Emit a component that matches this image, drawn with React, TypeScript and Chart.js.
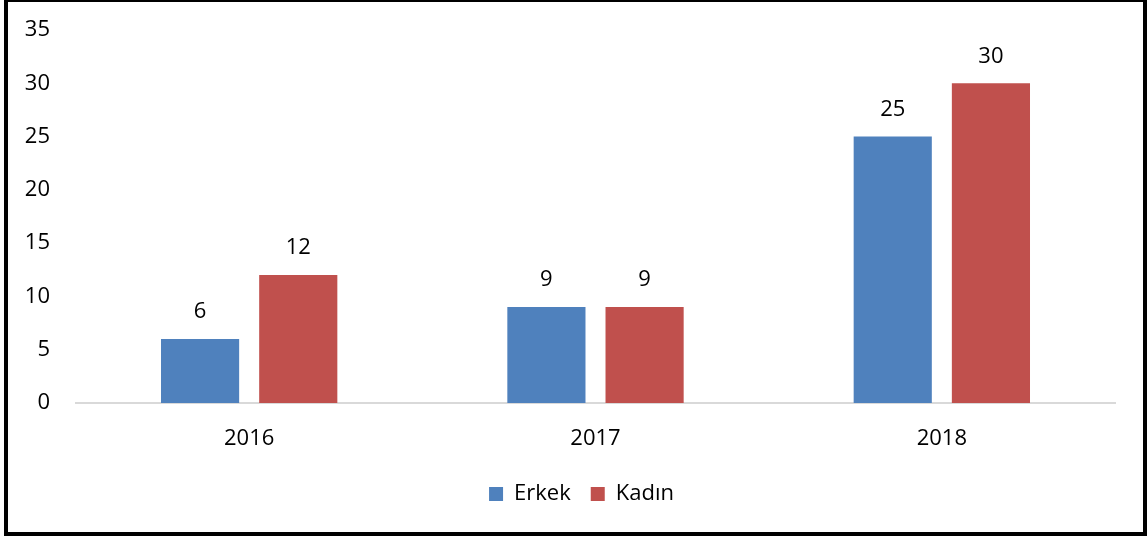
import React, { useEffect, useRef } from "react";
import { Chart, registerables } from "chart.js";
Chart.register(...registerables);

const categories = ["2016", "2017", "2018"];
const erkek = [6, 9, 25];
const kadin = [12, 9, 30];
const seriesNames = ["Erkek", "Kadın"];
const yTicks = [0, 5, 10, 15, 20, 25, 30, 35];

const FONT = "'Open Sans', 'Noto Sans', sans-serif";
const FS = 22;

const labelPlugin = {
  id: "barLabels",
  afterLayout(chart: any) {
    if (chart.legend) {
      chart.legend.left += 24;
      chart.legend.right += 24;
    }
  },
  afterDatasetsDraw(chart: any) {
    const ctx = chart.ctx;
    ctx.save();
    ctx.font = `${FS}px ${FONT}`;
    ctx.fillStyle = "#000";
    ctx.textAlign = "center";
    ctx.textBaseline = "middle";
    chart.data.datasets.forEach((ds: any, i: number) => {
      const meta = chart.getDatasetMeta(i);
      meta.data.forEach((bar: any, j: number) => {
        ctx.fillText(String(ds.data[j]), bar.x, bar.y - 27);
      });
    });
    ctx.restore();
  },
};

export default function App() {
  const ref = useRef<HTMLCanvasElement>(null);
  useEffect(() => {
    document.body.style.margin = "0";
    const chart = new Chart(ref.current!, {
      type: "bar",
      data: {
        labels: categories,
        datasets: [
          { label: seriesNames[0], data: erkek, backgroundColor: "#4F81BD", categoryPercentage: 0.567, barPercentage: 0.796 },
          { label: seriesNames[1], data: kadin, backgroundColor: "#C0504D", categoryPercentage: 0.567, barPercentage: 0.796 },
        ],
      },
      options: {
        animation: false,
        responsive: false,
        maintainAspectRatio: false,
        layout: { padding: { left: 0, right: 33, top: 30, bottom: 22 } },
        plugins: {
          tooltip: { enabled: false },
          legend: {
            position: "bottom",
            labels: {
              font: { family: FONT, size: FS },
              color: "#000",
              boxWidth: 14,
              boxHeight: 14,
              padding: 20,
            },
          },
        },
        scales: {
          x: {
            grid: { display: false, drawTicks: false },
            border: { display: true, color: "#d9d9d9", width: 2 },
            ticks: { font: { family: FONT, size: FS }, color: "#000", padding: 23 },
            afterFit(scale: any) { scale.height = 60; },
          },
          y: {
            min: 0,
            max: 35,
            afterBuildTicks(scale: any) { scale.ticks = yTicks.map((v) => ({ value: v })); },
            grid: { display: false, drawTicks: false },
            border: { display: false },
            ticks: { font: { family: FONT, size: FS }, color: "#000", padding: 26 },
            afterFit(scale: any) {
              scale.width = 76;
              scale.paddingTop = 0;
              scale.paddingBottom = 0;
            },
          },
        },
      },
      plugins: [labelPlugin],
    });
    return () => chart.destroy();
  }, []);
  return (
    <div style={{ position: "absolute", left: 0, top: 0, width: 1148, height: 537, background: "#fff" }}>
      <canvas ref={ref} width={1148} height={537} style={{ position: "absolute", left: 0, top: 0 }} />
      <div style={{ position: "absolute", left: 4, top: 0, width: 1143, height: 536, boxSizing: "border-box", border: "4px solid #000", borderTopWidth: 2, pointerEvents: "none" }} />
    </div>
  );
}
